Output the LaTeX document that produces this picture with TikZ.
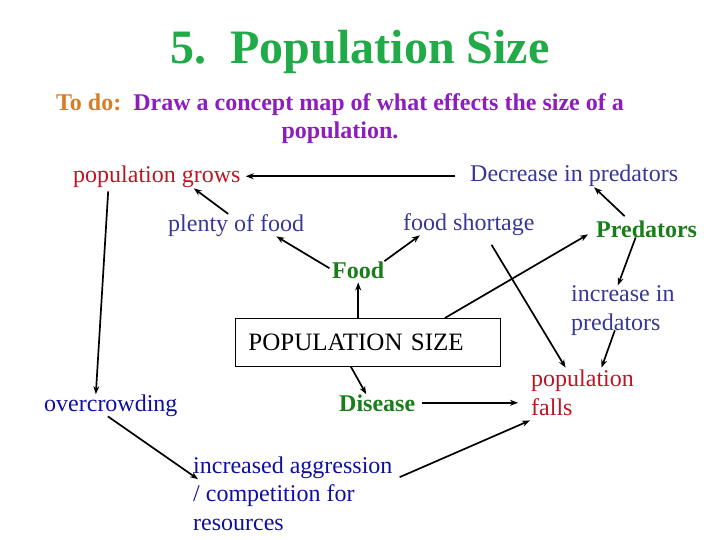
\documentclass[tikz,border=0pt]{standalone}
\usepackage{fontspec}
\setmainfont{Liberation Serif}
\usetikzlibrary{arrows.meta}
\definecolor{titlegreen}{RGB}{32,170,72}
\definecolor{conceptgreen}{RGB}{25,125,25}
\definecolor{resultred}{RGB}{190,20,35}
\definecolor{effectblue}{RGB}{55,55,150}
\definecolor{crowdblue}{RGB}{15,15,160}
\definecolor{todoorange}{RGB}{215,125,40}
\definecolor{todopurple}{RGB}{140,30,190}

\begin{document}
\begin{tikzpicture}
    [x=1pt, y=-1pt,
    txt/.style={inner sep=0pt, anchor=base west, align=left,
        font=\fontsize{24}{28.5}\selectfont},
    concept/.style={txt, text=conceptgreen,
        font=\fontsize{24}{28.5}\selectfont\bfseries},
    effect/.style={txt, text=effectblue},
    crowd/.style={txt, text=crowdblue},
    result/.style={txt, text=resultred},
    arr/.style={-{Stealth[length=8pt,width=6pt]}, line width=1.7pt}]

    % heading
    \node[anchor=base, inner sep=0pt, text=titlegreen,
        font=\fontsize{48}{58}\selectfont\bfseries] (title) at (360,64)
        {5.\ \ Population Size};
    % multi-line nodes: base is the baseline of the last line
    \node[anchor=base, inner sep=0pt, align=center, text=todopurple,
        font=\fontsize{24}{27.5}\selectfont\bfseries] (todo) at (340,138.5)
        {\textcolor{todoorange}{To do:}\ \ Draw a concept map of what effects the size of a\\population.};

    % the concepts
    \node[draw, line width=0.8pt, anchor=north west, inner xsep=13pt,
        text width=239pt, minimum height=48pt, align=left,
        font=\fontsize{25}{30}\selectfont] (size) at (235,318) {POPULATION SIZE};
    \node[concept] (food) at (332,278) {Food};
    \node[concept] (pred) at (596,237) {Predators};
    \node[concept] (disease) at (339,411) {Disease};

    \node[result] (grows) at (73,183) {population grows};
    \node[result] (falls) at (531,415) {population\\falls};

    \node[effect] (decr) at (470,182) {Decrease in predators};
    \node[effect] (plenty) at (168,231) {plenty of food};
    \node[effect] (short) at (403,230) {food shortage};
    \node[effect] (incr) at (571,330) {increase in\\predators};
    \node[crowd] (crowding) at (44,411) {overcrowding};
    \node[crowd] (aggr) at (193,530) {increased aggression\\/ competition for\\resources};

    % links
    \draw[arr, shorten <=15pt, shorten >=5pt] (decr.west) -- (decr.west -| grows.east);
    \draw[arr] ([xshift=-8]plenty.north) -- ([xshift=37]grows.south);
    \draw[arr, shorten <=3pt] (food.west) -- ([xshift=-28]plenty.south east);
    \draw[arr] (food.north east) -- ([xshift=-49]short.south);
    \draw[arr] ([shift={(-22,-4)}]pred.north) -- ([xshift=20]decr.south);
    \draw[arr] ([xshift=-11]pred.south) -- ([xshift=-5]incr.north);
    \draw[arr, shorten >=4pt] (size.north -| food.south) -- (food.south);
    \draw[arr] ([xshift=77]size.north) -- ([shift={(-8,-3)}]pred.south west);
    \draw[arr, shorten <=11pt] ([xshift=17]short.south) -- ([shift={(-17,-2)}]falls.north);
    \draw[arr] ([shift={(-8,-5)}]incr.south) -- ([shift={(19,-2)}]falls.north);
    \draw[arr] ([xshift=-17]size.south) -- ([xshift=-11]disease.north);
    \draw[arr, shorten <=7pt, shorten >=13pt] (disease.east) -- (disease.east -| falls.west);
    \draw[arr, shorten <=3pt] ([xshift=-48.5]grows.south) -- ([xshift=-15]crowding.north);
    \draw[arr] ([xshift=-3]crowding.south) -- ([shift={(5,23)}]aggr.north west);
    \draw[arr] ([shift={(7,21)}]aggr.north east) -- ([shift={(-1,5)}]falls.south west);

    \useasboundingbox (0,0) rectangle (720,540);
\end{tikzpicture}
\end{document}
